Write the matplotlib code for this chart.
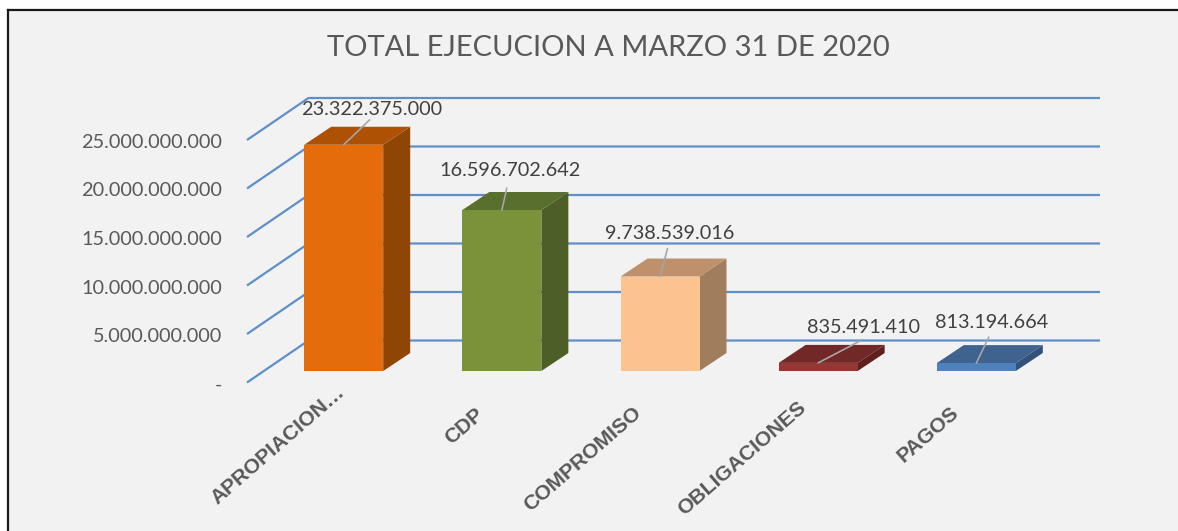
import matplotlib
matplotlib.use('Agg')
import matplotlib.pyplot as plt
from matplotlib.patches import Polygon, Rectangle
from matplotlib.lines import Line2D

# Datos
categorias = ['APROPIACION…', 'CDP', 'COMPROMISO', 'OBLIGACIONES', 'PAGOS']
valores = [23322375000, 16596702642, 9738539016, 835491410, 813194664]
etiquetas = ['23.322.375.000', '16.596.702.642', '9.738.539.016', '835.491.410', '813.194.664']
ticks = [0, 5e9, 10e9, 15e9, 20e9, 25e9]
tick_labels = ['-', '5.000.000.000', '10.000.000.000', '15.000.000.000', '20.000.000.000', '25.000.000.000']

# Colores de cada barra: frente, tapa, lateral
frente = ['#E46C0A', '#7A933B', '#FCC28F', '#943634', '#4F81BD']
tapa = ['#AE5104', '#586F2E', '#BE916C', '#722826', '#3E638F']
lateral = ['#8F4504', '#4D5F26', '#A07D5C', '#5E1F1D', '#335179']
GRID = '#5F8FC8'

W, H = 1178, 531
PX_X = 158.15   # pixeles por categoria
PX_Y = 9.7e-9   # pixeles por unidad de valor


def dx(px):
    return px / PX_X


def dy(px):
    return px / PX_Y


fig = plt.figure(figsize=(W / 100, H / 100), dpi=100, facecolor='white')

# Fondo gris con el marco oscuro arriba y a la izquierda
fig.patches.append(Rectangle((8 / W, 0), 1, 1 - 10 / H, transform=fig.transFigure,
                             facecolor='#F2F2F2', edgecolor='none', zorder=-5))
fig.add_artist(Line2D([8 / W, 8 / W], [0, 1 - 10 / H], color='#1A1A1A', lw=1.6))
fig.add_artist(Line2D([8 / W, 1], [1 - 10 / H, 1 - 10 / H], color='#1A1A1A', lw=1.6))

ax = fig.add_axes([0, 0, 1, 1])
ax.set_axis_off()
ax.patch.set_alpha(0)
x0 = -343.7 / PX_X
ax.set_xlim(x0, x0 + W / PX_X)
ax.set_ylim(-dy(H - 371), dy(371))

# Pared y piso: diagonal + linea horizontal en cada marca del eje
xf, yf = x0 + dx(247), dy(-11.5)
xb, yb = x0 + dx(308.5), dy(30.5)
xr = x0 + dx(1100)
for t, lab in zip(ticks, tick_labels):
    ax.plot([xf, xb, xr], [t + yf, t + yb, t + yb], color=GRID, lw=1.6, zorder=1,
            solid_joinstyle='miter', solid_capstyle='butt')
    ax.text(x0 + dx(222), t + yf + dy(-2.5), lab, ha='right', va='center', family='Lato',
            fontsize=14.3, color='#595959', zorder=2)

# Barras en falso 3D
ancho = 79 / PX_X
prof_x, prof_y = dx(27), dy(18)
for i, v in enumerate(valores):
    l, r = i - ancho / 2, i + ancho / 2
    ax.add_patch(Polygon([(r, 0), (r + prof_x, prof_y), (r + prof_x, v + prof_y), (r, v)],
                         facecolor=lateral[i], edgecolor='none', zorder=3))
    ax.add_patch(Polygon([(l, v), (r, v), (r + prof_x, v + prof_y), (l + prof_x, v + prof_y)],
                         facecolor=tapa[i], edgecolor='none', zorder=3))
    ax.add_patch(Polygon([(l, 0), (r, 0), (r, v), (l, v)],
                         facecolor=frente[i], edgecolor='none', zorder=4))

# Etiquetas de datos con linea guia (desplazamientos en pixeles desde la tapa)
texto_off = [(28, 35), (8, 40), (10, 43), (45, 35), (15, 41)]
guia_off = [(26, 25), (5, 22), (7.5, 28), (42, 22), (12.5, 26)]
for i, v in enumerate(valores):
    ax.annotate('', xy=(i, v), xytext=guia_off[i], textcoords='offset pixels',
                arrowprops=dict(arrowstyle='-', color='#A6A6A6', lw=1.2, shrinkA=0, shrinkB=0),
                zorder=5)
    ax.annotate(etiquetas[i], xy=(i, v), xytext=texto_off[i], textcoords='offset pixels',
                ha='center', va='center', family='Lato', fontsize=14.3, color='#404040', zorder=6)

# Categorias giradas (ancla en pixeles respecto a la base de la barra)
cat_off_x = [-8, -27, -28, -21, -26]
cat_off_y = [11, 34, 32, 27, 32]
for i, c in enumerate(categorias):
    ax.text(i + dx(cat_off_x[i]), dy(-cat_off_y[i]), c, rotation=41, rotation_mode='anchor',
            ha='right', va='top', family='Liberation Sans', fontweight='bold', fontsize=15.2,
            color='#595959', zorder=6)

fig.text(608 / W, 1 - 47.5 / H, 'TOTAL EJECUCION A MARZO 31 DE 2020', ha='center', va='center',
         family='Lato', fontsize=21, color='#595959')

fig.savefig('out.png', dpi=100)
